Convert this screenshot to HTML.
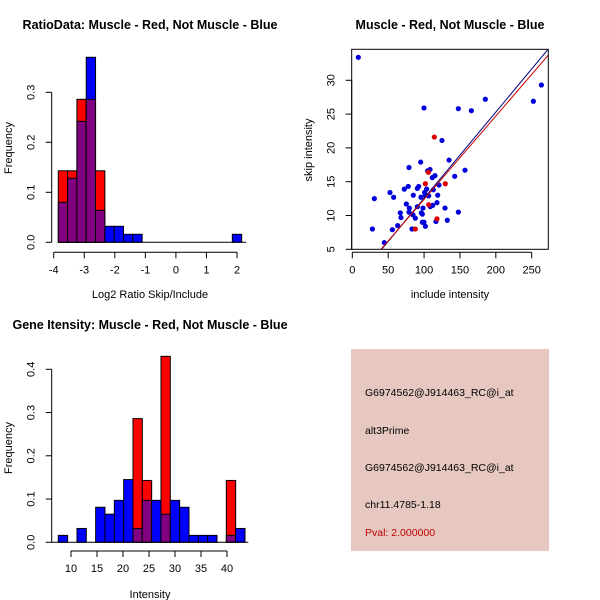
<!DOCTYPE html>
<html><head><meta charset="utf-8"><style>
html,body{margin:0;padding:0;background:#fff;}
svg{display:block;font-family:"Liberation Sans",sans-serif;}
</style></head><body>
<svg id="c" width="600" height="600" viewBox="0 0 600 600">
<text x="150" y="29" text-anchor="middle" font-size="12.5" font-weight="bold">RatioData: Muscle - Red, Not Muscle - Blue</text>
<text x="150" y="298" text-anchor="middle" font-size="11">Log2 Ratio Skip/Include</text>
<text transform="translate(12,148) rotate(-90)" text-anchor="middle" font-size="11">Frequency</text>
<text x="450" y="29" text-anchor="middle" font-size="12.5" font-weight="bold">Muscle - Red, Not Muscle - Blue</text>
<text x="450" y="298" text-anchor="middle" font-size="11">include intensity</text>
<text transform="translate(312,150) rotate(-90)" text-anchor="middle" font-size="11">skip intensity</text>
<text x="150" y="329" text-anchor="middle" font-size="12.5" font-weight="bold">Gene Itensity: Muscle - Red, Not Muscle - Blue</text>
<text x="150" y="598" text-anchor="middle" font-size="11">Intensity</text>
<text transform="translate(12,448) rotate(-90)" text-anchor="middle" font-size="11">Frequency</text>
<g>
<rect x="351" y="349" width="198" height="202" fill="#E6C8C0"/>
<text x="365" y="396" font-size="10.5">G6974562@J914463_RC@i_at</text>
<text x="365" y="434" font-size="10.5">alt3Prime</text>
<text x="365" y="471" font-size="10.5">G6974562@J914463_RC@i_at</text>
<text x="365" y="508" font-size="10.5">chr11.4785-1.18</text>
<text x="365" y="536" font-size="10.5" fill="#C00000">Pval: 2.000000</text>
</g>
</svg>
<script>
// ---- Ratio histogram data ----
const ratioBinStarts = [-3.85,-3.545,-3.24,-2.935,-2.63,-2.325,-2.02,-1.715,-1.41,1.847];
const ratioBinWidth = 0.305;
const ratioBlue = [0.08,0.128,0.242,0.37,0.064,0.032,0.032,0.016,0.016,0.016];
const ratioRed = [0.143,0.143,0.286,0.286,0.143,0,0,0,0,0];
const ratioXTicks = [-4,-3,-2,-1,0,1,2];
const ratioYTicks = [0,0.1,0.2,0.3];
// ---- Scatter data ----
const blueX = [8.4,28,30.7,44.6,52.5,55.8,57.6,63.2,66.9,67.8,72.5,75.3,78,79,79.5,79,83.2,84.6,85,87.8,90.6,90.6,92.5,95.3,95.7,96.2,97.6,97.6,98.5,99.9,99.9,100.8,101.8,101.8,103.6,105,106.4,108.3,108.7,111.5,112,112.9,115.2,116.6,118,119,120.8,125,129.2,132.4,134.8,142.7,147.8,147.8,157,165.9,185.4,252.3,263.5];
const blueY = [33.4,8.0,12.5,6.0,13.4,7.9,12.7,8.5,10.4,9.7,13.9,11.7,14.3,17.1,11.1,10.5,8.0,10.1,13.0,9.6,11.3,14.0,14.3,17.9,12.7,10.4,9.0,10.2,11.1,25.9,9.0,13.4,8.4,13.0,13.9,16.6,12.9,16.8,11.3,15.6,11.5,13.8,15.9,9.1,11.9,13.0,14.5,21.1,11.1,9.3,18.2,15.8,25.8,10.5,16.7,25.5,27.2,26.9,29.3];
const redX = [101.8,114.3,129.6,106,106.4,118,87.8];
const redY = [14.7,21.6,14.7,16.4,11.6,9.5,8.0];
const blueFit = [-0.22,0.1276]; // intercept, slope
const redFit = [0.07,0.1232];
const scatterXTicks = [0,50,100,150,200,250];
const scatterYTicks = [5,10,15,20,25,30];
// ---- Intensity histogram data ----
const intBinStart = 7.56;
const intBinWidth = 1.795;
const intBlue = [0.016,0,0.032,0,0.081,0.065,0.097,0.145,0.032,0.097,0.097,0.065,0.097,0.081,0.016,0.016,0.016,0,0.016,0.032];
const intRed = [0,0,0,0,0,0,0,0,0.286,0.143,0,0.43,0,0,0,0,0,0,0.143,0];
const intXTicks = [10,15,20,25,30,35,40];
const intYTicks = [0,0.1,0.2,0.3,0.4];

const svg = document.getElementById('c');
const NS = 'http://www.w3.org/2000/svg';
function mk(tag, attrs, parent){const e=document.createElementNS(NS,tag);for(const k in attrs)e.setAttribute(k,attrs[k]);(parent||svg).appendChild(e);return e;}
function lin(d0,d1,r0,r1){return v=>r0+(v-d0)*(r1-r0)/(d1-d0);}

function drawBars(g,starts,width,blue,red,sx,sy,prefix){
  for(let i=0;i<starts.length;i++){
    const x0=sx(starts[i]), x1=sx(starts[i]+width);
    const b=blue[i], r=red[i];
    const hi=Math.max(b,r), lo=Math.min(b,r);
    if(hi<=0) continue;
    const topColor = b>=r ? '#0000FF' : '#FF0000';
    const rt=mk('rect',{x:x0,y:sy(hi),width:x1-x0,height:sy(0)-sy(hi),fill:topColor,stroke:'#000','stroke-width':1},g);
    
    
    if(lo>0){
      const rp=mk('rect',{x:x0,y:sy(lo),width:x1-x0,height:sy(0)-sy(lo),fill:'#800080',stroke:'#000','stroke-width':1},g);
      
      
    }
  }
}
function yAxis(g,ticks,sy,x,fmt,prefix){
  const l=mk('line',{x1:x,x2:x,y1:sy(ticks[0]),y2:sy(ticks[ticks.length-1]),stroke:'#000'},g);
  
  
  ticks.forEach(t=>{
    mk('line',{x1:x-6,x2:x,y1:sy(t),y2:sy(t),stroke:'#000'},g);
    const tx=mk('text',{transform:`translate(${x-17},${sy(t)}) rotate(-90)`,'text-anchor':'middle','font-size':11},g);
    tx.textContent=fmt(t);
    
    
  });
}
function xAxis(g,ticks,sx,y,prefix){
  const l=mk('line',{x1:sx(ticks[0]),x2:sx(ticks[ticks.length-1]),y1:y,y2:y,stroke:'#000'},g);
  
  
  ticks.forEach(t=>{
    mk('line',{x1:sx(t),x2:sx(t),y1:y,y2:y+6,stroke:'#000'},g);
    const tx=mk('text',{x:sx(t),y:y+21,'text-anchor':'middle','font-size':11},g);
    tx.textContent=String(t);
    
    
  });
}

// Ratio histogram
{
  const g=mk('g',{});
  
  
  const sx=lin(-4,2,53.7,237), sy=lin(0,0.3,242.3,92.3);
  drawBars(g,ratioBinStarts,ratioBinWidth,ratioBlue,ratioRed,sx,sy,'ratio');
  const base=mk('line',{x1:sx(-3.85),x2:sx(2.3),y1:sy(0),y2:sy(0),stroke:'#000'},g);
  
  
  yAxis(g,ratioYTicks,sy,51.7,t=>t.toFixed(1),'ratio');
  xAxis(g,ratioXTicks,sx,252.3,'ratio');
}
// Scatter
{
  const g=mk('g',{});
  
  
  const sx=lin(0,250,352.3,531.7), sy=lin(5,30,249.3,80.3);
  const L=351.7,R=548.3,T=49.3,B=249.3;
  const cp=mk('clipPath',{id:'sc'},g);
  mk('rect',{x:L,y:T,width:R-L,height:B-T},cp);
  blueX.forEach((v,i)=>{
    const c=mk('circle',{cx:sx(v),cy:sy(blueY[i]),r:2.6,fill:'#0000DD'},g);
    
    
  });
  redX.forEach((v,i)=>{
    const c=mk('circle',{cx:sx(v),cy:sy(redY[i]),r:2.6,fill:'#DD0000'},g);
    
    
  });
  [[blueFit,'#000080','not-muscle-fit-line'],[redFit,'#CC0000','muscle-fit-line']].forEach(([f,col,nm])=>{
    const ln=mk('line',{x1:sx(0),y1:sy(f[0]),x2:sx(300),y2:sy(f[0]+f[1]*300),stroke:col,'stroke-width':1,'clip-path':'url(#sc)'},g);
    
    
  });
  const box=mk('rect',{x:L,y:T,width:R-L,height:B-T,fill:'none',stroke:'#000'},g);
  
  
  yAxis(g,scatterYTicks,sy,L,t=>String(t),'scatter');
  xAxis(g,scatterXTicks,sx,B+3,'scatter');
}
// Intensity histogram
{
  const g=mk('g',{});
  
  
  const sx=lin(10,40,71,227), sy=lin(0,0.4,542.3,369.3);
  const starts=intBlue.map((_,i)=>intBinStart+i*intBinWidth);
  drawBars(g,starts,intBinWidth,intBlue,intRed,sx,sy,'intensity');
  const base=mk('line',{x1:51.7,x2:248.3,y1:sy(0),y2:sy(0),stroke:'#000'},g);
  
  
  yAxis(g,intYTicks,sy,51.7,t=>t.toFixed(1),'intensity');
  xAxis(g,intXTicks,sx,551,'intensity');
}
</script>
</body></html>
